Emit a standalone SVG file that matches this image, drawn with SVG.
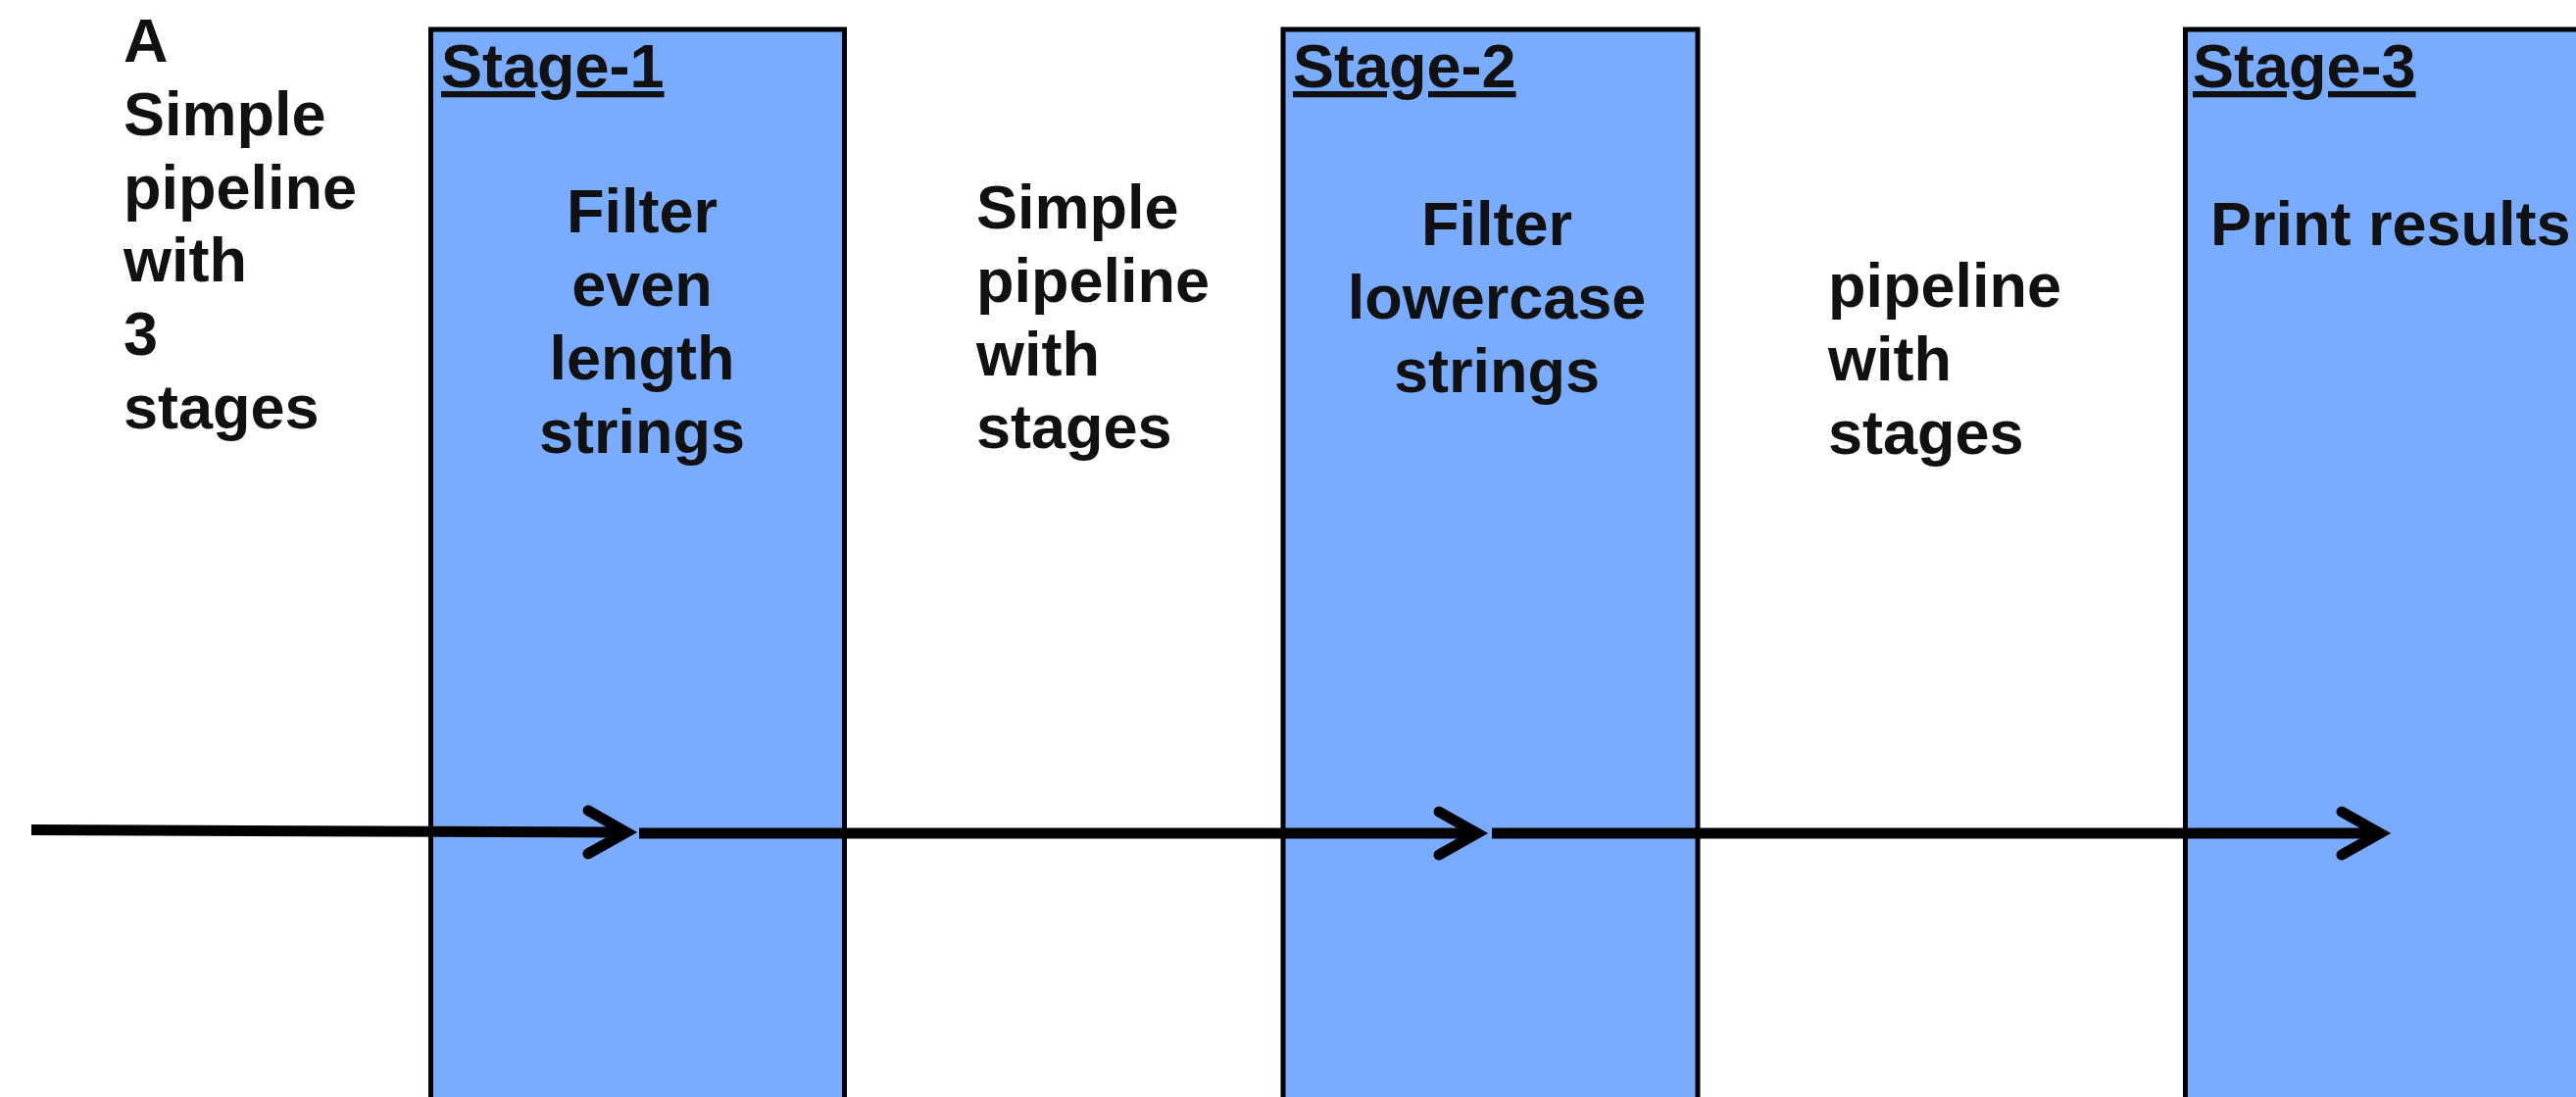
<svg xmlns="http://www.w3.org/2000/svg" width="2628" height="1119" viewBox="0 0 2628 1119">
<style>
  text { font-family: "Liberation Sans", Arial, sans-serif; font-weight: bold; font-size: 63px; fill: #111111; }
  .stage { fill: #79acff; stroke: #000000; stroke-width: 5; }
  .lbl { text-decoration: underline; }
  .mid { text-anchor: middle; }
  .conn { fill: none; stroke: #000000; stroke-width: 11; stroke-linecap: butt; }
</style>
<defs>
  <marker id="chev" markerUnits="userSpaceOnUse" markerWidth="100" markerHeight="100" refX="0" refY="0" orient="auto" overflow="visible">
    <path d="M-39,-22 L0,0 L-39,22" fill="none" stroke="#000000" stroke-width="11" stroke-linecap="round" stroke-linejoin="miter"/>
  </marker>
</defs>
<rect x="0" y="0" width="2628" height="1119" fill="#ffffff"/>

<g id="title">
  <text x="126" y="63">A</text>
  <text x="126" y="138">Simple</text>
  <text x="126" y="213">pipeline</text>
  <text x="126" y="287">with</text>
  <text x="126" y="362">3</text>
  <text x="126" y="437">stages</text>
</g>

<g id="stage1">
  <rect class="stage" x="439.5" y="30" width="422" height="1110"/>
  <text class="lbl" x="450" y="89">Stage-1</text>
  <text class="mid" x="655" y="237">Filter</text>
  <text class="mid" x="655" y="312">even</text>
  <text class="mid" x="655" y="387">length</text>
  <text class="mid" x="655" y="462">strings</text>
</g>

<g id="note1">
  <text x="996" y="233">Simple</text>
  <text x="996" y="308">pipeline</text>
  <text x="996" y="383">with</text>
  <text x="996" y="457">stages</text>
</g>

<g id="stage2">
  <rect class="stage" x="1309" y="30" width="423" height="1110"/>
  <text class="lbl" x="1319" y="89">Stage-2</text>
  <text class="mid" x="1527" y="250">Filter</text>
  <text class="mid" x="1527" y="325">lowercase</text>
  <text class="mid" x="1527" y="400">strings</text>
</g>

<g id="note2">
  <text x="1865" y="313">pipeline</text>
  <text x="1865" y="388">with</text>
  <text x="1865" y="463">stages</text>
</g>

<g id="stage3">
  <rect class="stage" x="2229.5" y="30" width="450" height="1110"/>
  <text class="lbl" x="2237" y="89">Stage-3</text>
  <text x="2255" y="250">Print results</text>
</g>

<g id="connectors">
  <path class="conn" d="M32,846.5 L639,849" marker-end="url(#chev)"/>
  <path class="conn" d="M652,850 L1507,850" marker-end="url(#chev)"/>
  <path class="conn" d="M1522,850 L2428,850" marker-end="url(#chev)"/>
</g>
</svg>
